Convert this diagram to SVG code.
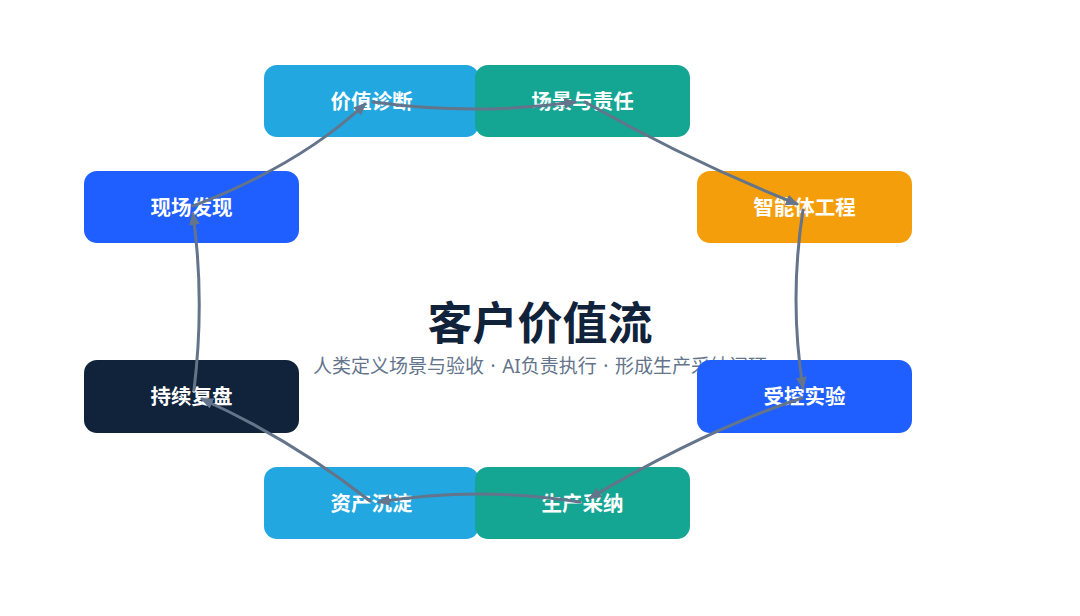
<svg xmlns="http://www.w3.org/2000/svg" width="1080" height="616" viewBox="0 0 1080 616">
<style>
.node-text{font-family:"Noto Sans","Noto Sans CJK SC",sans-serif;font-weight:700;font-size:20.5px;fill:#ffffff;text-anchor:middle}
.title{font-family:"Noto Sans","Noto Sans CJK SC",sans-serif;font-weight:700;font-size:45px;fill:#11233b;text-anchor:middle}
.subtitle{font-family:"Noto Sans","Noto Sans CJK SC",sans-serif;font-weight:400;font-size:19px;word-spacing:1.6px;fill:#64748b;text-anchor:middle}
.edge{fill:none;stroke:#64748b;stroke-width:3;stroke-linecap:round;marker-end:url(#arrow)}
</style>
<defs>
<marker id="arrow" markerUnits="userSpaceOnUse" markerWidth="16" markerHeight="14" refX="11" refY="5.5" orient="auto">
<path d="M0,0 L13,5.5 L0,11 Z" fill="#64748b"/>
</marker>
</defs>
<rect width="1080" height="616" fill="#ffffff"/>
<text class="title" x="540" y="340">客户价值流</text>
<text class="subtitle" x="540" y="373">人类定义场景与验收 · AI负责执行 · 形成生产采纳闭环</text>

<g id="node-xianchang">
<rect x="84" y="171" width="215" height="72" rx="13" fill="#1f5fff"/>
<text class="node-text" x="191.5" y="214.5">现场发现</text>
</g>
<g id="node-jiazhi">
<rect x="264" y="65" width="215" height="72" rx="13" fill="#23a7e0"/>
<text class="node-text" x="371.5" y="108.5">价值诊断</text>
</g>
<g id="node-changjing">
<rect x="475" y="65" width="215" height="72" rx="13" fill="#14a693"/>
<text class="node-text" x="582.5" y="108.5">场景与责任</text>
</g>
<g id="node-zhineng">
<rect x="697" y="171" width="215" height="72" rx="13" fill="#f59e0b"/>
<text class="node-text" x="804.5" y="214.5">智能体工程</text>
</g>
<g id="node-shouk">
<rect x="697" y="360" width="215" height="73" rx="13" fill="#1f5fff"/>
<text class="node-text" x="804.5" y="404">受控实验</text>
</g>
<g id="node-zichan">
<rect x="264" y="467" width="215" height="72" rx="13" fill="#23a7e0"/>
<text class="node-text" x="371.5" y="510.5">资产沉淀</text>
</g>
<g id="node-shengchan">
<rect x="475" y="467" width="215" height="72" rx="13" fill="#14a693"/>
<text class="node-text" x="582.5" y="510.5">生产采纳</text>
</g>
<g id="node-chixu">
<rect x="84" y="360" width="215" height="73" rx="13" fill="#11233b"/>
<text class="node-text" x="191.5" y="404">持续复盘</text>
</g>

<g id="connectors">
<path class="edge" d="M193,206 Q300,165 365,104"/>
<path class="edge" d="M373,102 Q475,116 575,102"/>
<path class="edge" d="M585,102 Q689,161 797,204"/>
<path class="edge" d="M803,210 Q789,300 803,388"/>
<path class="edge" d="M802,398 Q705,430 590,498"/>
<path class="edge" d="M580,502 Q478,486 379,502"/>
<path class="edge" d="M370,501 Q291,439 202,399"/>
<path class="edge" d="M194,390 Q205,300 193,214"/>
</g>
</svg>
